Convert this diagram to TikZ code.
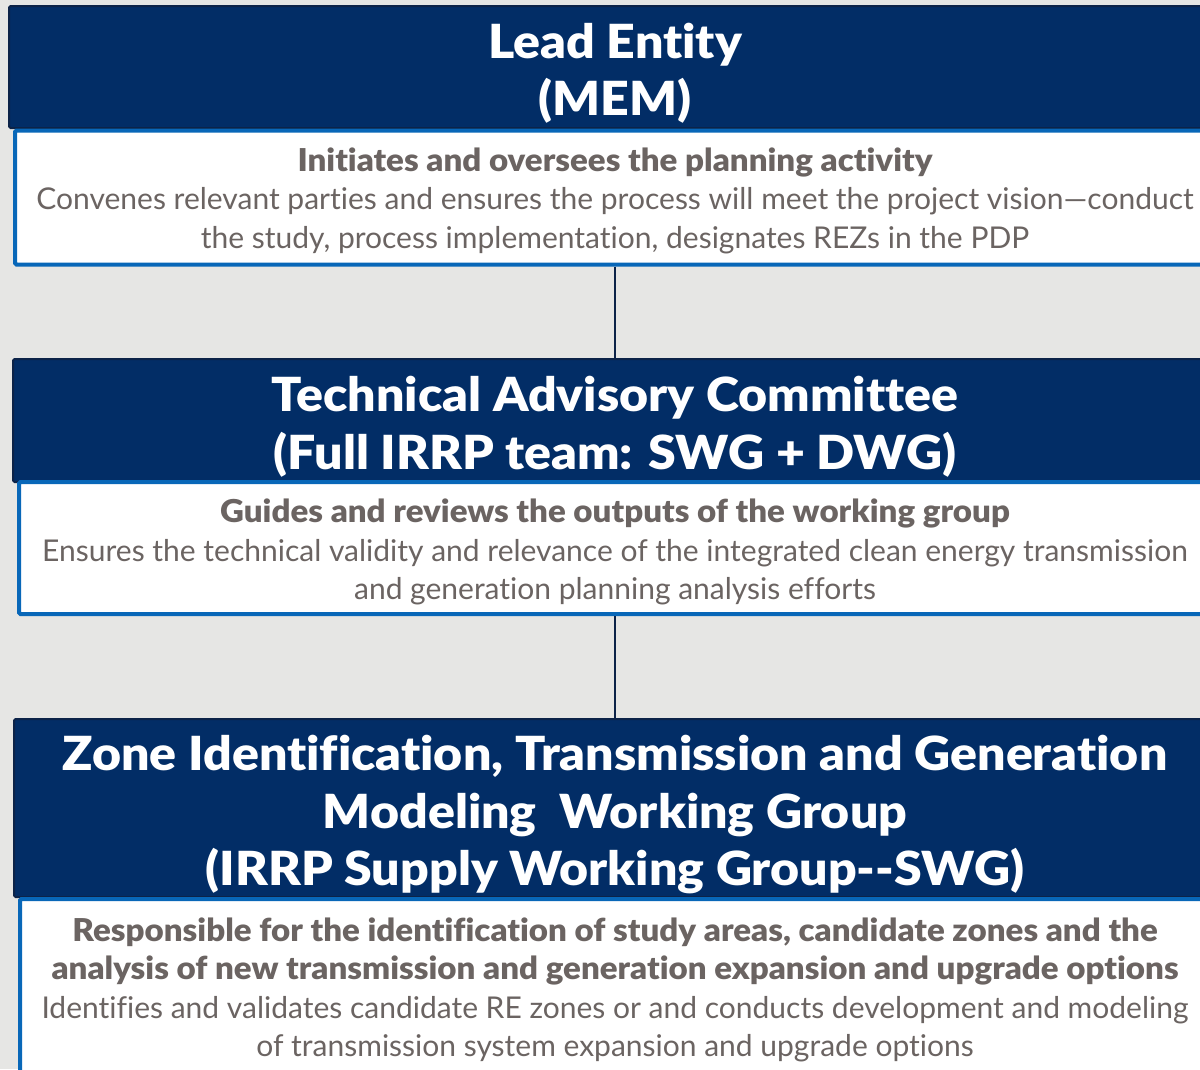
\documentclass[tikz,border=0pt]{standalone}
\usepackage{fontspec}
\setmainfont{Lato}[Ligatures=NoCommon]
\newfontfamily\hdfont{Lato Black}[Ligatures=NoCommon, FakeStretch=1.065]
\newfontfamily\bdfontface{Lato Black}[Ligatures=NoCommon, FakeStretch=1.05]
\newcommand\bdline[1]{{\fontsize{31.5}{38.5}\selectfont\bdfontface #1}}
\definecolor{bgc}{HTML}{E6E6E4}
\definecolor{navy}{HTML}{022D66}
\definecolor{navyedge}{HTML}{0C2348}
\definecolor{bluedge}{HTML}{0867B8}
\definecolor{txtgray}{HTML}{6B6462}
\begin{document}
\begin{tikzpicture}[x=1pt,y=-1pt,
  header/.style={draw=navyedge, fill=navy, line width=2pt, rounded corners=1.5pt, inner sep=0pt},
  headtext/.style={inner sep=0pt, text=white, align=center, font=\fontsize{47}{57.5}\selectfont\hdfont},
  body/.style={draw=bluedge, fill=white, line width=4pt, rounded corners=1.5pt, inner sep=0pt},
  bodytext/.style={inner sep=0pt, text=txtgray, align=center, font=\fontsize{30}{38.5}\selectfont},
  conn/.style={draw=navyedge, line width=1.8pt}]
\useasboundingbox (0,0) rectangle (1200,1069);
\clip (0,0) rectangle (1200,1069);
\fill[bgc] (0,0) rectangle (1200,1069);

\node[header, minimum width=1212pt, minimum height=122pt] (h1) at (615,67) {};
\node[headtext] (h1t) at ([yshift=-6pt]h1.center) {Lead Entity\\(MEM)};
\node[body, minimum width=1200pt, minimum height=134pt] (b1) at (615,197.5) {};
\node[bodytext] (b1t) at ([yshift=-3pt]b1.center)
  {\bdline{Initiates and oversees the planning activity}\\
   Convenes relevant parties and ensures the process will meet the project vision---conduct\\
   the study, process implementation, designates REZs in the PDP};

\node[header, minimum width=1204pt, minimum height=123pt] (h2) at (615,420.5) {};
\node[headtext] (h2t) at ([yshift=-6pt]h2.center) {Technical Advisory Committee\\(Full IRRP team: SWG + DWG)};
\node[body, minimum width=1192pt, minimum height=132pt] (b2) at (615,548) {};
\node[bodytext] (b2t) at ([yshift=-4pt]b2.center)
  {\bdline{Guides and reviews the outputs of the working group}\\
   Ensures the technical validity and relevance of the integrated clean energy transmission\\
   and generation planning analysis efforts};

\node[header, minimum width=1202pt, minimum height=178pt] (h3) at (615,808) {};
\node[headtext] (h3t) at ([yshift=-7pt]h3.center) {Zone Identification, Transmission and Generation\\Modeling\ \ Working Group\\(IRRP Supply Working Group-{}-SWG)};
\node[body, minimum width=1190pt, minimum height=182pt] (b3) at (615,990) {};
\node[bodytext] (b3t) at (b3.center)
  {\bdline{Responsible for the identification of study areas, candidate zones and the}\\
   \bdline{analysis of new transmission and generation expansion and upgrade options}\\
   Identifies and validates candidate RE zones or and conducts development and modeling\\
   of transmission system expansion and upgrade options};

\draw[conn] (b1.south) -- (h2.north);
\draw[conn] (b2.south) -- (h3.north);
\end{tikzpicture}
\end{document}
